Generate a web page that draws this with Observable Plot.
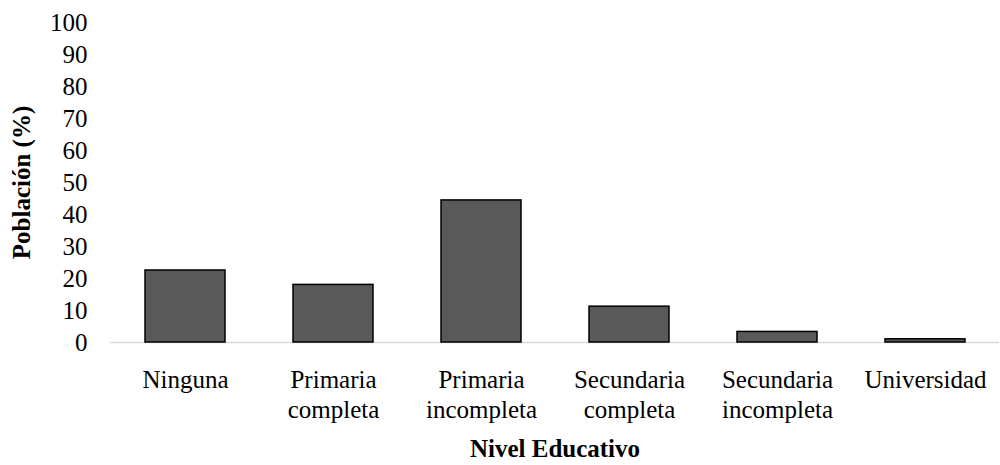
<!DOCTYPE html>
<html>
<head>
<meta charset="utf-8">
<script src="https://cdn.jsdelivr.net/npm/d3@7"></script>
<script src="https://cdn.jsdelivr.net/npm/@observablehq/plot@0.6"></script>
<style>
  html, body { margin: 0; padding: 0; background: #fff; }
  #chart { width: 1000px; height: 465px; }
</style>
</head>
<body>
<div id="chart"></div>
<script>
const categories = ["Ninguna", "Primaria completa", "Primaria incompleta", "Secundaria completa", "Secundaria incompleta", "Universidad"];
const tickLabels = ["Ninguna", "Primaria\ncompleta", "Primaria\nincompleta", "Secundaria\ncompleta", "Secundaria\nincompleta", "Universidad"];
const values = [22.5, 18.0, 44.4, 11.2, 3.3, 1.0];
const yTicks = [0, 10, 20, 30, 40, 50, 60, 70, 80, 90, 100];

const data = categories.map((c, i) => ({cat: c, val: values[i]}));
const labelOf = new Map(categories.map((c, i) => [c, tickLabels[i]]));

const chart = Plot.plot({
  width: 1000,
  height: 465,
  marginLeft: 110,
  marginRight: 1,
  marginTop: 22,
  marginBottom: 123,
  style: {fontFamily: "'Liberation Serif', 'Times New Roman', serif", fontSize: "25px", color: "#000", background: "#fff"},
  x: {domain: categories, paddingInner: 0.46, paddingOuter: 0.23},
  y: {domain: [0, 100]},
  marks: [
    Plot.ruleY([0], {stroke: "#d9d9d9", strokeWidth: 1.5}),
    Plot.barY(data, {x: "cat", y: "val", fill: "#595959", stroke: "#000", strokeWidth: 1.5}),
    Plot.axisX({tickSize: 0, tickPadding: 24, lineHeight: 1.2, tickFormat: d => labelOf.get(d),
      label: "Nivel Educativo", labelAnchor: "center", labelOffset: 114, labelArrow: "none"}),
    Plot.axisY({ticks: yTicks, tickSize: 0, tickPadding: 23,
      label: "Población (%)", labelAnchor: "center", labelOffset: 98, labelArrow: "none"})
  ]
});
d3.select(chart).selectAll("[aria-label='x-axis label'] text, [aria-label='y-axis label'] text").style("font-weight", "bold");
document.getElementById("chart").appendChild(chart);
</script>
</body>
</html>
